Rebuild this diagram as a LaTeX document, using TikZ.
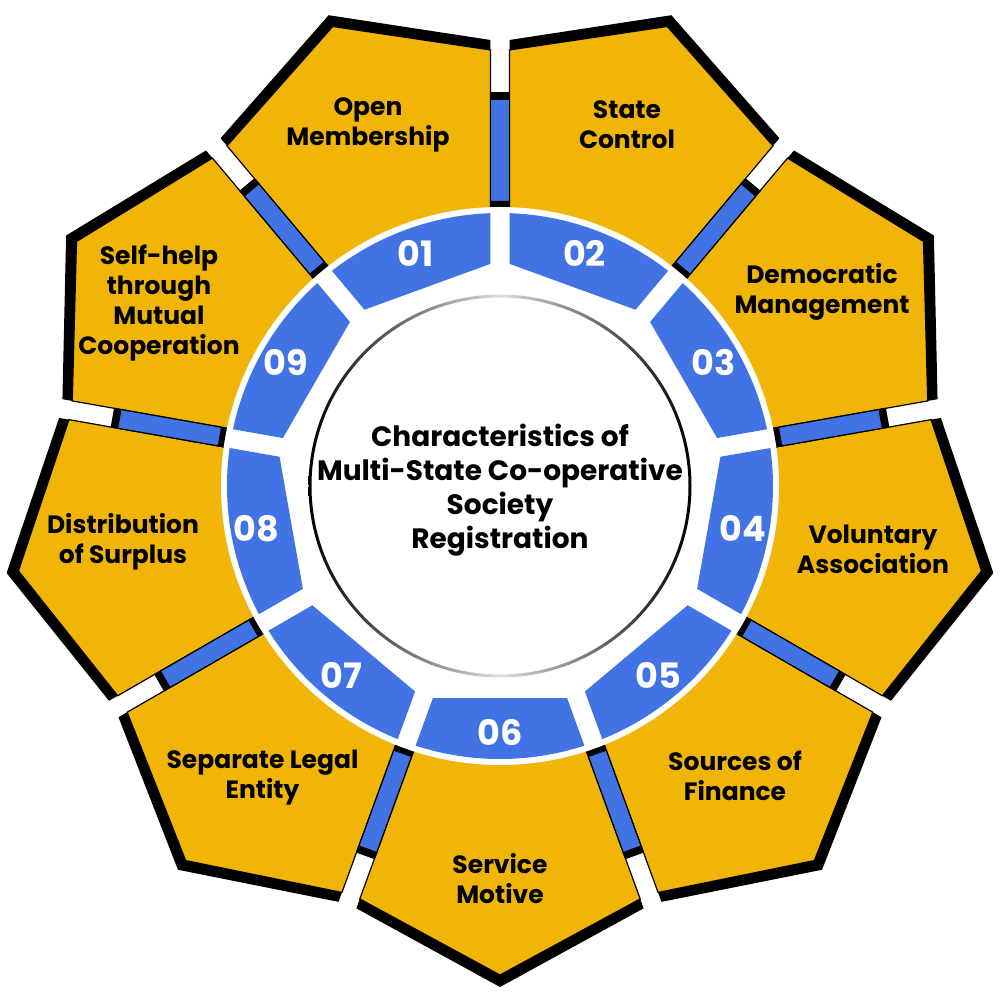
\documentclass[tikz,border=0pt]{standalone}
\usepackage{fontspec}
\setmainfont{Poppins}
\usepackage{xcolor}
\definecolor{petal}{RGB}{240,181,6}
\definecolor{ring}{RGB}{66,115,228}

\begin{document}
\begin{tikzpicture}[x=0.5pt,y=0.5pt,
        petaltext/.style={align=center,font=\bfseries\fontsize{12.5}{15}\selectfont},
        ringnum/.style={text=white,font=\bfseries\fontsize{17.5}{18}\selectfont}]
    \useasboundingbox (-500,-514) rectangle (500,486);

    % petals with their shadows
    \foreach \a in {110,70,30,-10,-50,-90,-130,190,150} {
        \fill[black,rotate=\a] (191.19,-59.47) -- (422.35,-143.61) -- (501,0) -- (422.35,143.61) -- (191.19,59.47) -- cycle;
        \filldraw[fill=petal,draw=black,line width=0.6,rotate=\a] (191.19,-59.47) -- (412.96,-140.19) -- (489,0) -- (412.96,140.19) -- (191.19,59.47) -- cycle;
    }

    % strips between the petals
    \foreach \a in {90,50,10,-30,-70,-110,210,170,130} {
        \filldraw[fill=ring,draw=black,line width=0.6,rotate=\a] (279,-9.5) rectangle (393,9.5);
        \fill[black,rotate=\a] (279,-9.5) rectangle (285,9.5) (386,-9.5) rectangle (393,9.5);
    }

    \fill[white] (0,0) circle[radius=279];

    % blue ring
    \foreach \a/\n in {110/01,70/02,30/03,-10/04,-50/05,-90/06,-130/07,190/08,150/09} {
        \fill[ring,rotate=\a] (212,-67.05) -- (259.63,-84.38) arc[start angle=-18,end angle=18,radius=273] -- (212,67.05) -- cycle;
        \node[ringnum] (num\n) at (\a:247) {\n};
    }

    \foreach \p/\n/\t in {{(-132,361)}/01/{Open\\Membership}, {(127,361)}/02/{State\\Control},
            {(322,194.5)}/03/{Democratic\\Management}, {(373,-63)}/04/{Voluntary\\Association},
            {(235,-290)}/05/{Sources of\\Finance}, {(0,-393)}/06/{Service\\Motive},
            {(-237.5,-292)}/07/{Separate Legal\\Entity}, {(-377,-55.5)}/08/{Distribution\\of Surplus},
            {(-341,182.5)}/09/{Self-help\\through\\Mutual\\Cooperation}}
        \node[petaltext] (item\n) at \p {\t};

    % centre
    \shade[left color=black,right color=black,middle color=gray!25,even odd rule] (0,0) circle[radius=191.5] circle[radius=188.5];
    \node[align=center,font=\bfseries\fontsize{14}{17}\selectfont] (title) at (0,-4)
        {Characteristics of\\Multi-State Co-operative\\Society\\Registration};
\end{tikzpicture}
\end{document}
